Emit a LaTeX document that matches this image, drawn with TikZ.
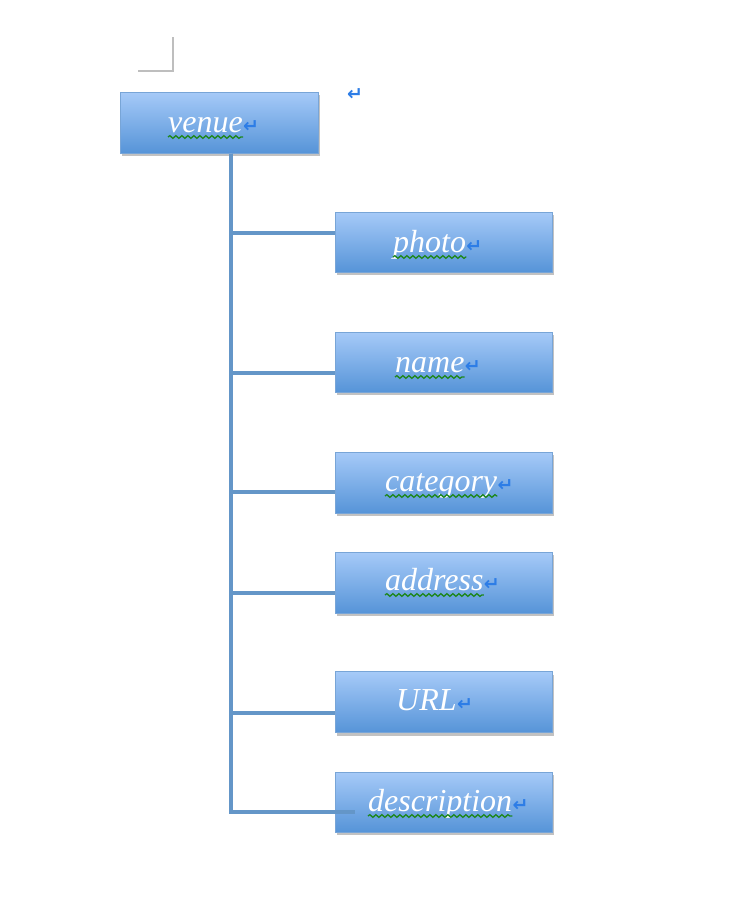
\documentclass[tikz,border=0pt]{standalone}
\usepackage{fontspec}
\setmainfont{Liberation Serif}
\newfontfamily\symfont{DejaVu Sans}
\usetikzlibrary{shadows,decorations.pathmorphing,calc}
\definecolor{boxtop}{RGB}{166,202,248}
\definecolor{boxbot}{RGB}{86,148,216}
\definecolor{boxedge}{RGB}{120,165,215}
\definecolor{connc}{RGB}{100,150,200}
\definecolor{retc}{RGB}{45,125,230}
\definecolor{wavec}{RGB}{30,135,30}
\definecolor{markc}{RGB}{190,190,190}
\tikzset{
  boxnode/.style={draw=boxedge, line width=1pt, top color=boxtop, bottom color=boxbot,
    minimum width=217pt, minimum height=60pt, inner sep=0pt,
    drop shadow={shadow xshift=1.5pt, shadow yshift=-3pt, opacity=0.4, fill=black!60}},
  wordnode/.style={font=\fontsize{32}{32}\selectfont\itshape, text=white, inner sep=0pt, anchor=base west},
  retnode/.style={font=\symfont\fontsize{19}{19}\selectfont\bfseries, text=retc, inner sep=0pt, anchor=base west},
  conn/.style={draw=connc, line width=3.5pt, line join=miter},
  wavyline/.style={draw=wavec, line width=1.3pt, decorate, decoration={snake, amplitude=1.4pt, segment length=6pt}},
  markline/.style={draw=markc, line width=1.2pt}
}
\begin{document}
\begin{tikzpicture}[x=1pt,y=-1pt]
\useasboundingbox (0,0) rectangle (728,910);
% page corner mark
\coordinate (mk1) at (173,37);
\coordinate (mk2) at (173,71);
\coordinate (mk3) at (138,71);
\draw[markline] (mk1) -- (mk2) -- (mk3);
% standalone paragraph mark
\node[retnode] (ret0) at (347,100) {↵};

% boxes
\node[boxnode, minimum width=198pt, minimum height=61pt] (venue) at (219,122.5) {};
\node[boxnode] (photo) at (443.5,242) {};
\node[boxnode] (name) at (443.5,362) {};
\node[boxnode, minimum height=61pt] (category) at (443.5,482.5) {};
\node[boxnode, minimum height=61pt] (address) at (443.5,582.5) {};
\node[boxnode, minimum height=61pt] (url) at (443.5,702) {};
\node[boxnode] (description) at (443.5,802) {};

% connectors
\coordinate (trunk) at (231,153);
\draw[conn] (venue.south -| trunk) |- ([yshift=9pt]photo.west);
\draw[conn] (venue.south -| trunk) |- ([yshift=-11pt]name.west);
\draw[conn] (venue.south -| trunk) |- ([yshift=-9.5pt]category.west);
\draw[conn] (venue.south -| trunk) |- ([yshift=-10.5pt]address.west);
\draw[conn] (venue.south -| trunk) |- ([yshift=-11pt]url.west);
\draw[conn, line cap=butt] (venue.south -| trunk) |- ([xshift=20pt,yshift=-10pt]description.west);

% labels
\node[wordnode] (venueT) at (168,132) {venue};
\node[retnode] (venueR) at (venueT.base east) {↵};
\draw[wavyline] ([yshift=-5pt]venueT.base west) -- ([yshift=-5pt]venueT.base east);

\node[wordnode] (photoT) at (393,252) {photo};
\node[retnode] (photoR) at (photoT.base east) {↵};
\draw[wavyline] ([yshift=-5pt]photoT.base west) -- ([yshift=-5pt]photoT.base east);

\node[wordnode] (nameT) at (395,372) {name};
\node[retnode] (nameR) at (nameT.base east) {↵};
\draw[wavyline] ([yshift=-5pt]nameT.base west) -- ([yshift=-5pt]nameT.base east);

\node[wordnode] (categoryT) at (385,491) {category};
\node[retnode] (categoryR) at (categoryT.base east) {↵};
\draw[wavyline] ([yshift=-5pt]categoryT.base west) -- ([yshift=-5pt]categoryT.base east);

\node[wordnode] (addressT) at (385,590) {address};
\node[retnode] (addressR) at (addressT.base east) {↵};
\draw[wavyline] ([yshift=-5pt]addressT.base west) -- ([yshift=-5pt]addressT.base east);

\node[wordnode] (urlT) at (396,710) {URL};
\node[retnode] (urlR) at (urlT.base east) {↵};

\node[wordnode] (descriptionT) at (368,811) {description};
\node[retnode] (descriptionR) at (descriptionT.base east) {↵};
\draw[wavyline] ([yshift=-5pt]descriptionT.base west) -- ([yshift=-5pt]descriptionT.base east);
\end{tikzpicture}
\end{document}
